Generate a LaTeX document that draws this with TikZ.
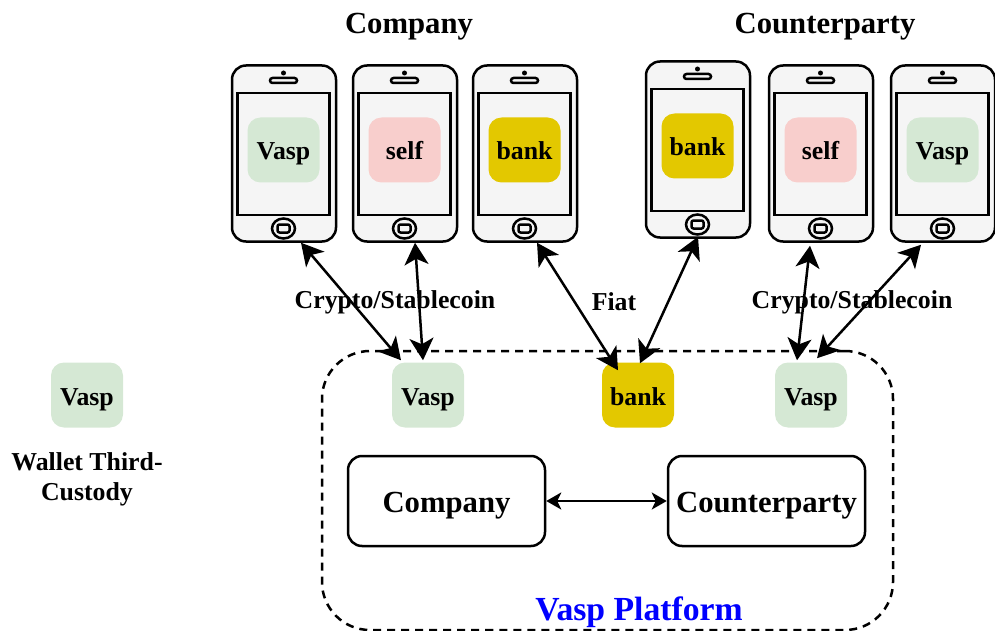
\documentclass[tikz,border=0pt]{standalone}
\usepackage{fontspec}
\setmainfont{Liberation Serif}
\usepackage{xcolor}
\usepackage{tikz}
\usetikzlibrary{positioning}
\usetikzlibrary{arrows.meta}
\usetikzlibrary{shapes.geometric}

\definecolor{vaspgreen}{HTML}{D5E8D4}
\definecolor{selfred}{HTML}{F8CECC}
\definecolor{bankyellow}{HTML}{E3C800}
\definecolor{phonegrey}{HTML}{F5F5F5}

\newcommand{\phonenode}[5]{
  \node[phonebody] (#1) at (#2,#3) {};
  \node[phonescreen] at ([yshift=-0.5pt,xshift=-0.5pt]#1.center) {};
  \node[phonespeaker] at ([yshift=73pt,xshift=-0.5pt]#1.center) {};
  \node[phonedot] at ([yshift=80.5pt,xshift=-0.5pt]#1.center) {};
  \node[phonehome] (#1h) at ([yshift=-75pt,xshift=-0.5pt]#1.center) {};
  \node[phonekey] at (#1h) {};
  \node[tile,fill=#4] (#1t) at ([yshift=3.5pt,xshift=-0.5pt]#1.center) {#5};
}

\begin{document}
\begin{tikzpicture}[
          x=1pt,y=-1pt,
          line width=2.5pt,
          font=\bfseries\fontsize{25.8}{30}\selectfont,
          phonebody/.style={draw,fill=phonegrey,rounded corners=14pt,minimum width=104pt,minimum height=176pt,inner sep=0pt},
          phonescreen/.style={draw,fill=phonegrey,minimum width=92pt,minimum height=122pt,inner sep=0pt},
          phonespeaker/.style={draw,fill=phonegrey,rounded corners=2.5pt,minimum width=27pt,minimum height=5pt,inner sep=0pt},
          phonedot/.style={circle,fill=black,minimum size=5pt,inner sep=0pt},
          phonehome/.style={draw,ellipse,fill=phonegrey,minimum width=23pt,minimum height=20pt,inner sep=0pt},
          phonekey/.style={draw,rounded corners=2pt,minimum width=12pt,minimum height=8pt,inner sep=0pt},
          tile/.style={rounded corners=13pt,minimum width=72pt,minimum height=65pt,inner sep=0pt,text height=20pt,text depth=0pt},
          mainbox/.style={draw,rounded corners=14pt,minimum width=197pt,minimum height=90pt,inner sep=0pt,text height=22pt,text depth=0pt,font=\bfseries\fontsize{30.7}{36}\selectfont},
          heading/.style={font=\bfseries\fontsize{30.7}{36}\selectfont},
          flow/.style={{Stealth[length=22pt,width=24pt,inset=6pt]}-{Stealth[length=22pt,width=24pt,inset=6pt]}},
          link/.style={{Stealth[length=15pt,width=17pt,inset=4pt]}-{Stealth[length=15pt,width=17pt,inset=4pt]}}
          ]

          \useasboundingbox (0,0) rectangle (995,631);

          \node[heading] (companyhead) at (409,27) {Company};
          \node[heading] (counterhead) at (825,27) {Counterparty};

          \phonenode{p1}{284}{153.5}{vaspgreen}{Vasp}
          \phonenode{p2}{405}{153.5}{selfred}{self}
          \phonenode{p3}{525}{153.5}{bankyellow}{bank}
          \phonenode{p4}{698}{149.5}{bankyellow}{bank}
          \phonenode{p5}{821}{153.5}{selfred}{self}
          \phonenode{p6}{943}{153.5}{vaspgreen}{Vasp}

          \node[draw,dash pattern=on 8pt off 6pt,rounded corners=48pt,minimum width=571pt,minimum height=279pt,inner sep=0pt] (platform) at (607.5,490.5) {};
          \node[font=\bfseries\fontsize{33.7}{40}\selectfont,text=blue] (platformlabel) at (639,612) {Vasp Platform};

          \node[tile,fill=vaspgreen] (v1) at (428,395) {Vasp};
          \node[tile,fill=bankyellow] (b1) at (638,395) {bank};
          \node[tile,fill=vaspgreen] (v2) at (811,395) {Vasp};

          \node[mainbox] (company) at (446.5,501) {Company};
          \node[mainbox] (counter) at (766.5,501) {Counterparty};

          \node[tile,fill=vaspgreen] (legend) at (87,395) {Vasp};
          \node[align=center,below=19pt of legend] (legendlabel) {Wallet Third-\\Custody};

          \node (crypto1) at (395,302) {Crypto/Stablecoin};
          \node (fiat) at (614,302) {Fiat};
          \node (crypto2) at (852,302) {Crypto/Stablecoin};

          \draw[flow] ([xshift=17pt]p1.south) -- ([xshift=-27pt,yshift=1pt]v1.north);
          \draw[flow] ([xshift=10pt]p2.south) -- ([xshift=-5pt,yshift=1pt]v1.north);
          \draw[flow] ([xshift=12pt]p3.south) -- ([xshift=-20pt,yshift=-9pt]b1.north);
          \draw[flow] ([yshift=2pt]p4.south) -- ([yshift=-2pt,xshift=2pt]b1.north);
          \draw[flow] ([xshift=-11pt,yshift=-3pt]p5.south) -- ([xshift=-14pt,yshift=1pt]v2.north);
          \draw[flow] ([xshift=-22pt,yshift=-2pt]p6.south) -- ([xshift=6pt,yshift=3pt]v2.north);
          \draw[link] (company) -- (counter);
        \end{tikzpicture}
\end{document}
